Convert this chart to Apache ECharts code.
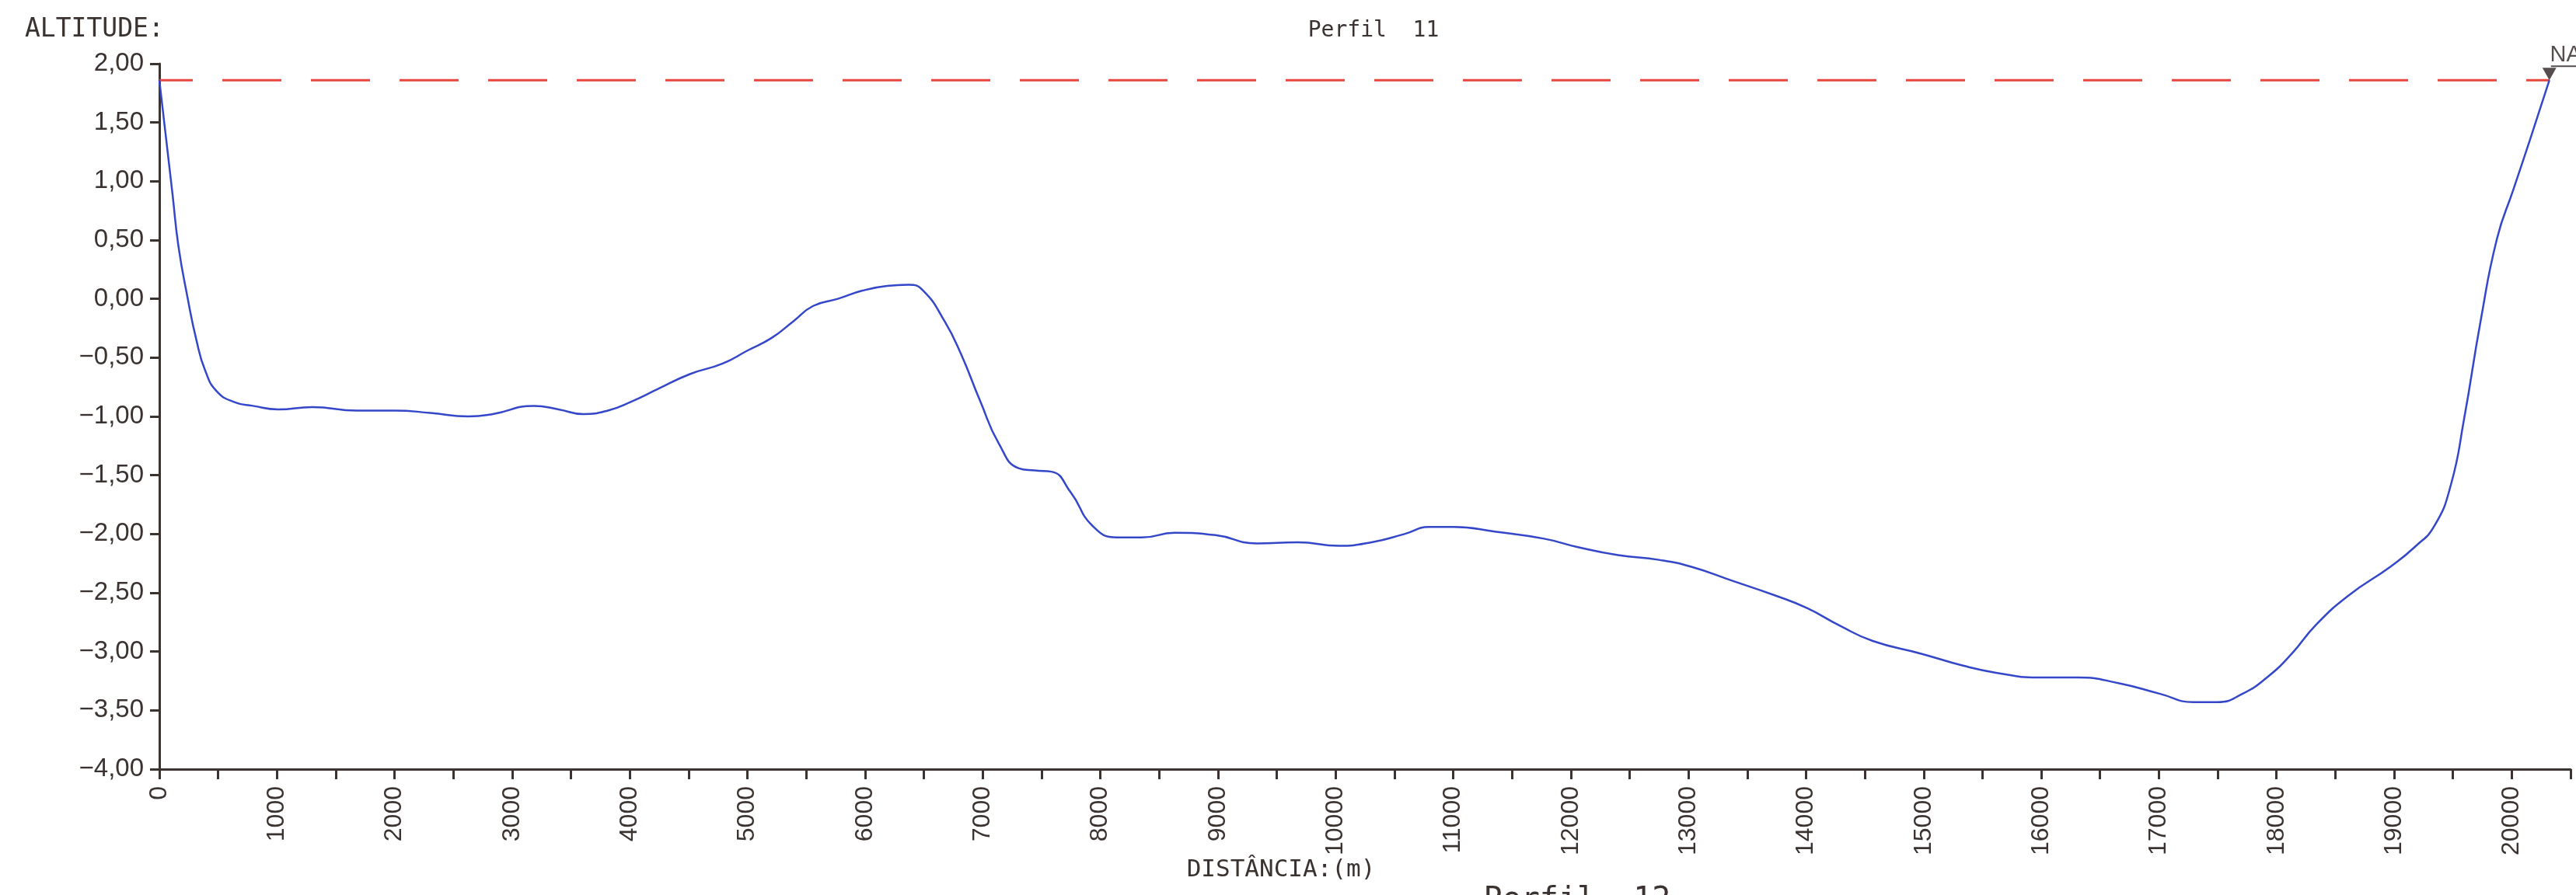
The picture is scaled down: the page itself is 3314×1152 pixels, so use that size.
<!DOCTYPE html>
<html>
<head>
<meta charset="utf-8">
<title>Perfil 11</title>
<script src="https://cdn.jsdelivr.net/npm/echarts@6/dist/echarts.min.js"></script>
<style>
  html, body { margin: 0; padding: 0; background: #fff; }
  #chart { width: 3314px; height: 1152px; }
</style>
</head>
<body>
<div id="chart"></div>
<script>
var distancia = [0, 112, 162, 240, 315, 390, 491, 643, 795, 1010, 1300, 1680, 2000, 2304, 2626,
  2835, 3184, 3394, 3603, 3813, 4022, 4232, 4511, 4790, 5000, 5209, 5391, 5559, 5768, 5978,
  6187, 6369, 6494, 6676, 6816, 6983, 7137, 7304, 7444, 7584, 7751, 7933, 8142, 8352, 8631,
  8980, 9330, 9679, 10028, 10307, 10586, 10796, 11005, 11354, 11773, 12053, 12402, 12751, 13030, 13380,
  13729, 14008, 14288, 14567, 14986, 15335, 15615, 15964, 16313, 16662, 17011, 17291, 17500, 17709, 17919,
  18128, 18338, 18617, 18966, 19176, 19343, 19483, 19595, 19735, 19874, 20014, 20154, 20320]
var altitude = [1.86, 0.89, 0.45, 0.01, -0.35, -0.61, -0.79, -0.88, -0.91, -0.94, -0.92, -0.95, -0.95, -0.97, -1.0,
  -0.98, -0.91, -0.94, -0.98, -0.95, -0.87, -0.77, -0.64, -0.55, -0.44, -0.33, -0.19, -0.06, 0.0, 0.07,
  0.11, 0.12, 0.07, -0.19, -0.47, -0.88, -1.23, -1.44, -1.46, -1.47, -1.65, -1.93, -2.03, -2.03, -1.99,
  -2.01, -2.08, -2.07, -2.1, -2.07, -2.0, -1.94, -1.94, -1.98, -2.04, -2.11, -2.18, -2.22, -2.28, -2.4,
  -2.52, -2.63, -2.78, -2.91, -3.02, -3.12, -3.18, -3.22, -3.22, -3.27, -3.36, -3.43, -3.43, -3.36, -3.22,
  -3.02, -2.77, -2.52, -2.28, -2.11, -1.93, -1.58, -1.02, -0.19, 0.51, 0.93, 1.35, 1.86]

// nivel de agua (NA)
var nivelAgua = 1.86
var naInicio = 0
var naFim = 20320

// eixos
var yMin = -4, yMax = 2, yStep = 0.5
var xMin = 0, xMax = 20500, xStep = 500

var corTexto = '#3b3330'
var fonte = '"Liberation Sans", Arial, sans-serif'
var fonteCad = '"DejaVu Sans Mono", monospace'

var perfil = distancia.map(function (d, i) { return [d, altitude[i]] })

var chart = echarts.init(document.getElementById('chart'))

chart.setOption({
  backgroundColor: '#ffffff',
  animation: false,
  grid: { left: 205, right: 7, top: 82, bottom: 162 },
  xAxis: {
    type: 'value',
    min: xMin,
    max: xMax,
    interval: xStep,
    splitLine: { show: false },
    axisLine: { onZero: false, lineStyle: { color: corTexto, width: 3 } },
    axisTick: { length: 13, lineStyle: { color: corTexto, width: 3 } },
    axisLabel: {
      rotate: 90,
      margin: 22,
      fontSize: 32,
      fontFamily: fonte,
      color: corTexto,
      showMaxLabel: true,
      formatter: function (v) {
        return v % 1000 === 0 ? String(v) : ''
      }
    }
  },
  yAxis: {
    type: 'value',
    min: yMin,
    max: yMax,
    interval: yStep,
    splitLine: { show: false },
    axisLine: { onZero: false, lineStyle: { color: corTexto, width: 3 } },
    axisTick: { length: 12, lineStyle: { color: corTexto, width: 3 } },
    axisLabel: {
      margin: 20,
      fontSize: 33,
      fontFamily: fonte,
      color: corTexto,
      formatter: function (v) {
        return v.toFixed(2).replace('.', ',').replace('-', '\u2212')
      }
    }
  },
  series: [
    {
      // linha tracejada do NA
      type: 'line',
      data: [[naInicio, nivelAgua], [naFim, nivelAgua]],
      symbol: 'none',
      lineStyle: { color: '#e8463c', width: 3, type: [76, 38], dashOffset: 33 },
      z: 2
    },
    {
      type: 'line',
      data: perfil,
      symbol: 'none',
      smooth: 0.5,
      lineStyle: { color: '#3447c9', width: 2.5 },
      z: 3
    },
    {
      // marcador NA
      type: 'scatter',
      data: [[naFim, nivelAgua]],
      symbol: 'triangle',
      symbolRotate: 180,
      symbolSize: [18, 16],
      symbolOffset: [0, -8],
      itemStyle: { color: '#2a2220' },
      label: {
        show: true,
        position: 'top',
        offset: [21, 4],
        formatter: '{a|NA}\n{b|}',
        rich: {
          a: { fontSize: 29, fontFamily: fonte, color: '#2a2220', lineHeight: 26 },
          b: { backgroundColor: '#2a2220', width: 38, height: 2 }
        }
      },
      z: 4
    }
  ],
  graphic: [
    {
      type: 'text', left: 32, top: 22,
      style: { text: 'ALTITUDE:', fontSize: 33, fontFamily: fonteCad, fill: corTexto }
    },
    {
      type: 'text', x: 1767, y: 40,
      style: { text: 'Perfil  11', fontSize: 28, fontFamily: fonteCad, fill: corTexto,
        align: 'center', verticalAlign: 'middle' }
    },
    {
      type: 'text', x: 1648, y: 1120,
      style: { text: 'DISTÂNCIA:(m)', fontSize: 31, fontFamily: fonteCad, fill: corTexto,
        align: 'center', verticalAlign: 'middle' }
    },
    {
      // titulo do perfil seguinte, cortado na borda da folha
      type: 'text', x: 2029, y: 1140,
      style: { text: 'Perfil  12', fontSize: 40, fontFamily: fonteCad, fill: corTexto,
        align: 'center', verticalAlign: 'top' }
    }
  ]
})
</script>
</body>
</html>
